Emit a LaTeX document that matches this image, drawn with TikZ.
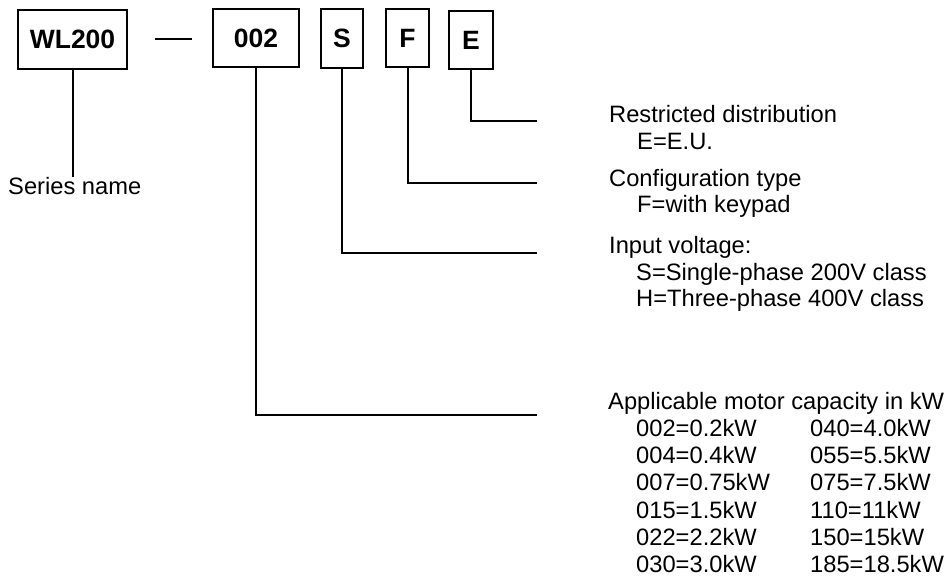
\documentclass[tikz,border=0pt]{standalone}
\usepackage{fontspec}
\setmainfont{Liberation Sans}
\begin{document}
\begin{tikzpicture}[x=1pt,y=-1pt,
  codebox/.style={draw,line width=2pt,inner sep=0pt,font=\fontsize{26.5}{27}\selectfont\bfseries},
  lbl/.style={inner sep=0pt,anchor=base west,font=\fontsize{23.7}{24}\selectfont},
  lead/.style={line width=2pt}]
\useasboundingbox (0,0) rectangle (949,577);
% code boxes
\node[codebox,minimum width=109pt,minimum height=59pt] (wl) at (72.5,39.5) {WL200};
\node[codebox,minimum width=86pt,minimum height=58pt] (c002) at (256,38) {002};
\node[codebox,minimum width=42pt,minimum height=59pt] (cs) at (342,38.5) {S};
\node[codebox,minimum width=43pt,minimum height=58pt] (cf) at (407.5,38) {F};
\node[codebox,minimum width=44pt,minimum height=58pt] (ce) at (471,40) {E};
% dash
\coordinate (d1) at (155,39);
\coordinate (d2) at (192,39);
\draw[lead] (d1) -- (d2);
% end points of leaders
\coordinate (wlend) at (72.5,177);
\coordinate (eend) at (537,121);
\coordinate (fend) at (537,183);
\coordinate (send) at (537,253);
\coordinate (nend) at (537,415);
\draw[lead] (wl.south) -- (wlend);
\draw[lead] (ce.south) |- (eend);
\draw[lead] (cf.south) |- (fend);
\draw[lead] (cs.south) |- (send);
\draw[lead] (c002.south) |- (nend);
% texts
\node[lbl] (tser) at (8,195) {Series name};
\node[lbl] (te1) at (609,123) {Restricted distribution};
\node[lbl] (te2) at (637,150) {E=E.U.};
\node[lbl] (tf1) at (609,187) {Configuration type};
\node[lbl] (tf2) at (637,213) {F=with keypad};
\node[lbl] (ts1) at (609,253) {Input voltage:};
\node[lbl] (ts2) at (636,280) {S=Single-phase 200V class};
\node[lbl] (ts3) at (636,306) {H=Three-phase 400V class};
\node[lbl] (tn0) at (608,409) {Applicable motor capacity in kW};
\node[lbl] (ta1) at (636,436.5) {002=0.2kW};
\node[lbl] (ta2) at (636,463.5) {004=0.4kW};
\node[lbl] (ta3) at (636,490.5) {007=0.75kW};
\node[lbl] (ta4) at (636,518) {015=1.5kW};
\node[lbl] (ta5) at (636,545) {022=2.2kW};
\node[lbl] (ta6) at (636,572.5) {030=3.0kW};
\node[lbl] (tb1) at (810,436.5) {040=4.0kW};
\node[lbl] (tb2) at (810,463.5) {055=5.5kW};
\node[lbl] (tb3) at (810,490.5) {075=7.5kW};
\node[lbl] (tb4) at (810,518) {110=11kW};
\node[lbl] (tb5) at (810,545) {150=15kW};
\node[lbl] (tb6) at (810,572.5) {185=18.5kW};
\end{tikzpicture}
\end{document}
